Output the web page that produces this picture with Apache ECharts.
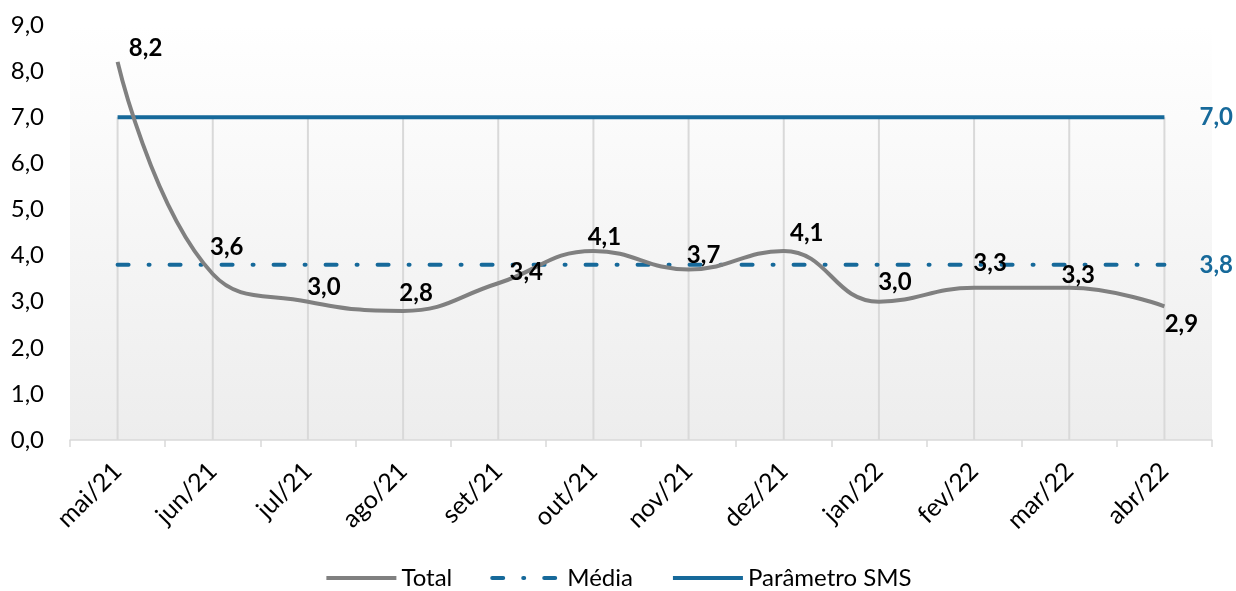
<!DOCTYPE html>
<html>
<head>
<meta charset="utf-8">
<script src="https://cdn.jsdelivr.net/npm/echarts@6/dist/echarts.min.js"></script>
<style>
  html, body { margin: 0; padding: 0; background: #fff; }
  #chart { width: 1236px; height: 591px; }
</style>
</head>
<body>
<div id="chart"></div>
<script>
// dados do gráfico
const meses = ['mai/21', 'jun/21', 'jul/21', 'ago/21', 'set/21', 'out/21',
               'nov/21', 'dez/21', 'jan/22', 'fev/22', 'mar/22', 'abr/22'];
const total = [8.2, 3.6, 3.0, 2.8, 3.4, 4.1, 3.7, 4.1, 3.0, 3.3, 3.3, 2.9];
const media = [3.8, 3.8, 3.8, 3.8, 3.8, 3.8, 3.8, 3.8, 3.8, 3.8, 3.8, 3.8];
const parametroSMS = [7.0, 7.0, 7.0, 7.0, 7.0, 7.0, 7.0, 7.0, 7.0, 7.0, 7.0, 7.0];
const yTicks = [0, 1, 2, 3, 4, 5, 6, 7, 8, 9];

// deslocamento do centro dos rótulos do Total em relação ao ponto (px)
const rotuloOffset = [[28, -14], [14, -27], [16, -14], [13, -18], [28, -11], [11, -14],
                      [15, -14], [23, -18], [16, -19], [16, -25], [9, -13], [17, 18]];

const fonte = 'Lato, "Open Sans", sans-serif';
const azul = '#16699a';
const fmt = v => Number(v).toFixed(1).replace('.', ',');

let myChart = echarts.init(document.getElementById('chart'));

myChart.setOption({
    animation: false,
    textStyle: { fontFamily: fonte },
    grid: {
        left: 70, right: 24, top: 25, bottom: 151,
        show: true,
        borderWidth: 0,
        backgroundColor: new echarts.graphic.LinearGradient(0, 0, 0, 1, [
            { offset: 0, color: '#ffffff' },
            { offset: 1, color: '#ededed' }
        ])
    },
    legend: {
        bottom: -4,
        left: 'center',
        itemGap: 38,
        itemWidth: 70,
        itemHeight: 4,
        itemStyle: { opacity: 0 },
        lineStyle: { width: 4 },
        textStyle: { fontSize: 24, color: '#000', fontFamily: fonte },
        data: ['Total', 'Média', 'Parâmetro SMS']
    },
    xAxis: {
        type: 'category',
        data: meses,
        boundaryGap: true,
        axisLine: { lineStyle: { color: '#d9d9d9', width: 1.5 } },
        axisTick: { show: true, length: 7, lineStyle: { color: '#d9d9d9', width: 1.5 } },
        axisLabel: { rotate: 45, fontSize: 25, color: '#000', margin: 27, interval: 0 },
        splitLine: { show: false }
    },
    yAxis: {
        type: 'value',
        min: yTicks[0],
        max: yTicks[yTicks.length - 1],
        interval: 1,
        axisLine: { show: false },
        axisTick: { show: false },
        splitLine: { show: false },
        axisLabel: { fontSize: 24, color: '#000', margin: 26, formatter: fmt }
    },
    series: [
        {
            // linhas de projeção verticais
            name: 'grade',
            type: 'bar',
            data: parametroSMS,
            barWidth: 2,
            itemStyle: { color: '#d9d9d9' },
            silent: true,
            z: 1
        },
        {
            name: 'Parâmetro SMS',
            type: 'line',
            data: parametroSMS,
            symbol: 'circle',
            symbolSize: 0.1,
            itemStyle: { color: azul },
            lineStyle: { color: azul, width: 4 },
            label: {
                show: true,
                position: 'right',
                distance: 35,
                fontSize: 24,
                fontWeight: 'bold',
                color: azul,
                formatter: p => p.dataIndex === parametroSMS.length - 1 ? fmt(p.value) : ''
            },
            z: 3
        },
        {
            name: 'Média',
            type: 'line',
            data: media,
            symbol: 'circle',
            symbolSize: 0.1,
            itemStyle: { color: azul },
            lineStyle: { color: azul, width: 4, type: [11, 20, 1, 20], cap: 'round' },
            label: {
                show: true,
                position: 'right',
                distance: 35,
                fontSize: 24,
                fontWeight: 'bold',
                color: azul,
                formatter: p => p.dataIndex === media.length - 1 ? fmt(p.value) : ''
            },
            z: 3
        },
        {
            name: 'Total',
            type: 'line',
            smooth: 0.45,
            data: total.map((v, i) => ({
                value: v,
                label: { offset: rotuloOffset[i] }
            })),
            symbol: 'circle',
            symbolSize: 0.1,
            itemStyle: { color: '#808080' },
            lineStyle: { color: '#808080', width: 4 },
            label: {
                show: true,
                position: 'inside',
                fontSize: 24,
                fontWeight: 'bold',
                color: '#000',
                formatter: p => fmt(p.value)
            },
            z: 4
        }
    ]
});
</script>
</body>
</html>
